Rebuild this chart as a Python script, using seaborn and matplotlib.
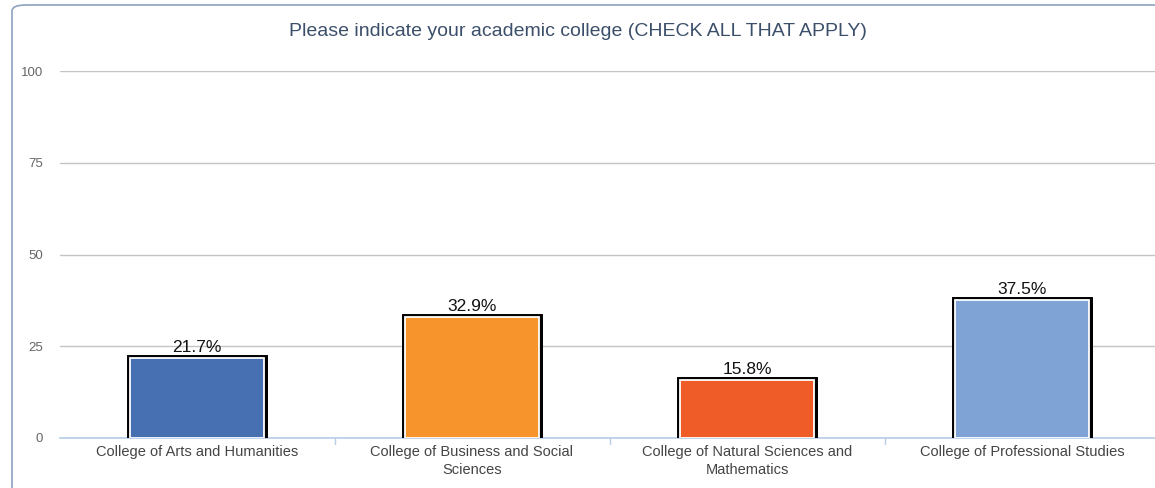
import pandas as pd
import matplotlib
matplotlib.use('Agg')
import matplotlib.pyplot as plt
import matplotlib.patheffects as pe
from matplotlib.patches import FancyBboxPatch
import seaborn as sns

sns.set_style("white")
plt.rcParams['font.family'] = ['Liberation Sans', 'DejaVu Sans']

colleges = ['College of Arts and Humanities',
            'College of Business and Social\nSciences',
            'College of Natural Sciences and\nMathematics',
            'College of Professional Studies']
pcts = [21.7, 32.9, 15.8, 37.5]
colors = ['#4770b3', '#f7942b', '#f05c27', '#80a3d6']
yticks = [0, 25, 50, 75, 100]

df = pd.DataFrame({'college': colleges, 'pct': pcts})

fig = plt.figure(figsize=(11.55, 4.88), dpi=100, facecolor='white')

# rounded panel frame (outline only)
frame = FancyBboxPatch((12 / 1155, -0.05), 1.2, 1 - 5 / 488 + 0.05,
                       boxstyle='round,pad=0,rounding_size=0.012',
                       transform=fig.transFigure, facecolor='none',
                       edgecolor='#8ea3bf', linewidth=1.2, zorder=-1)
fig.patches.append(frame)

ax = fig.add_axes([59.5 / 1155, 1 - 438 / 488, 1100 / 1155, (438 - 71) / 488])
ax.set_facecolor('none')

sns.barplot(data=df, x='college', y='pct', hue='college', palette=colors,
            saturation=1, legend=False, width=0.485, ax=ax,
            edgecolor='white', linewidth=1.3, zorder=3)

for bar in ax.patches:
    bar.set_path_effects([
        pe.SimplePatchShadow(offset=(3, -1), shadow_rgbFace='black', alpha=1),
        pe.Stroke(linewidth=5, foreground='black'),
        pe.Normal(),
    ])

for bar, v in zip(ax.patches, pcts):
    ax.text(bar.get_x() + bar.get_width() / 2, v + 0.9, f'{v}%',
            ha='center', va='bottom', fontsize=12.5, color='#111111', zorder=5)

ax.set_ylim(0, 100)
ax.set_xlim(-0.5, 3.5)
ax.set_yticks(yticks)
ax.set_yticklabels([str(t) for t in yticks])
ax.yaxis.grid(True, color='#c4c4c4', linewidth=1)
ax.set_axisbelow(True)
for s in ['top', 'right', 'left']:
    ax.spines[s].set_visible(False)
ax.spines['bottom'].set_color('#b8cde6')
ax.spines['bottom'].set_linewidth(1.2)
ax.tick_params(axis='y', length=0, pad=12, labelsize=9.5, labelcolor='#666666')
ax.tick_params(axis='x', length=0, pad=5, labelsize=10.5, labelcolor='#444444')
for lbl in ax.get_xticklabels():
    lbl.set_linespacing(1.4)
ax.set_xlabel('')
ax.set_ylabel('')

# small separator ticks between categories
for xb in [0.5, 1.5, 2.5]:
    ax.plot([xb, xb], [0, -1.6], color='#b8cde6', linewidth=1, clip_on=False)

fig.text(0.5, 1 - 31 / 488, 'Please indicate your academic college (CHECK ALL THAT APPLY)',
         ha='center', va='center', fontsize=14, color='#3c4f6a')

fig.savefig('out.png', dpi=100)
